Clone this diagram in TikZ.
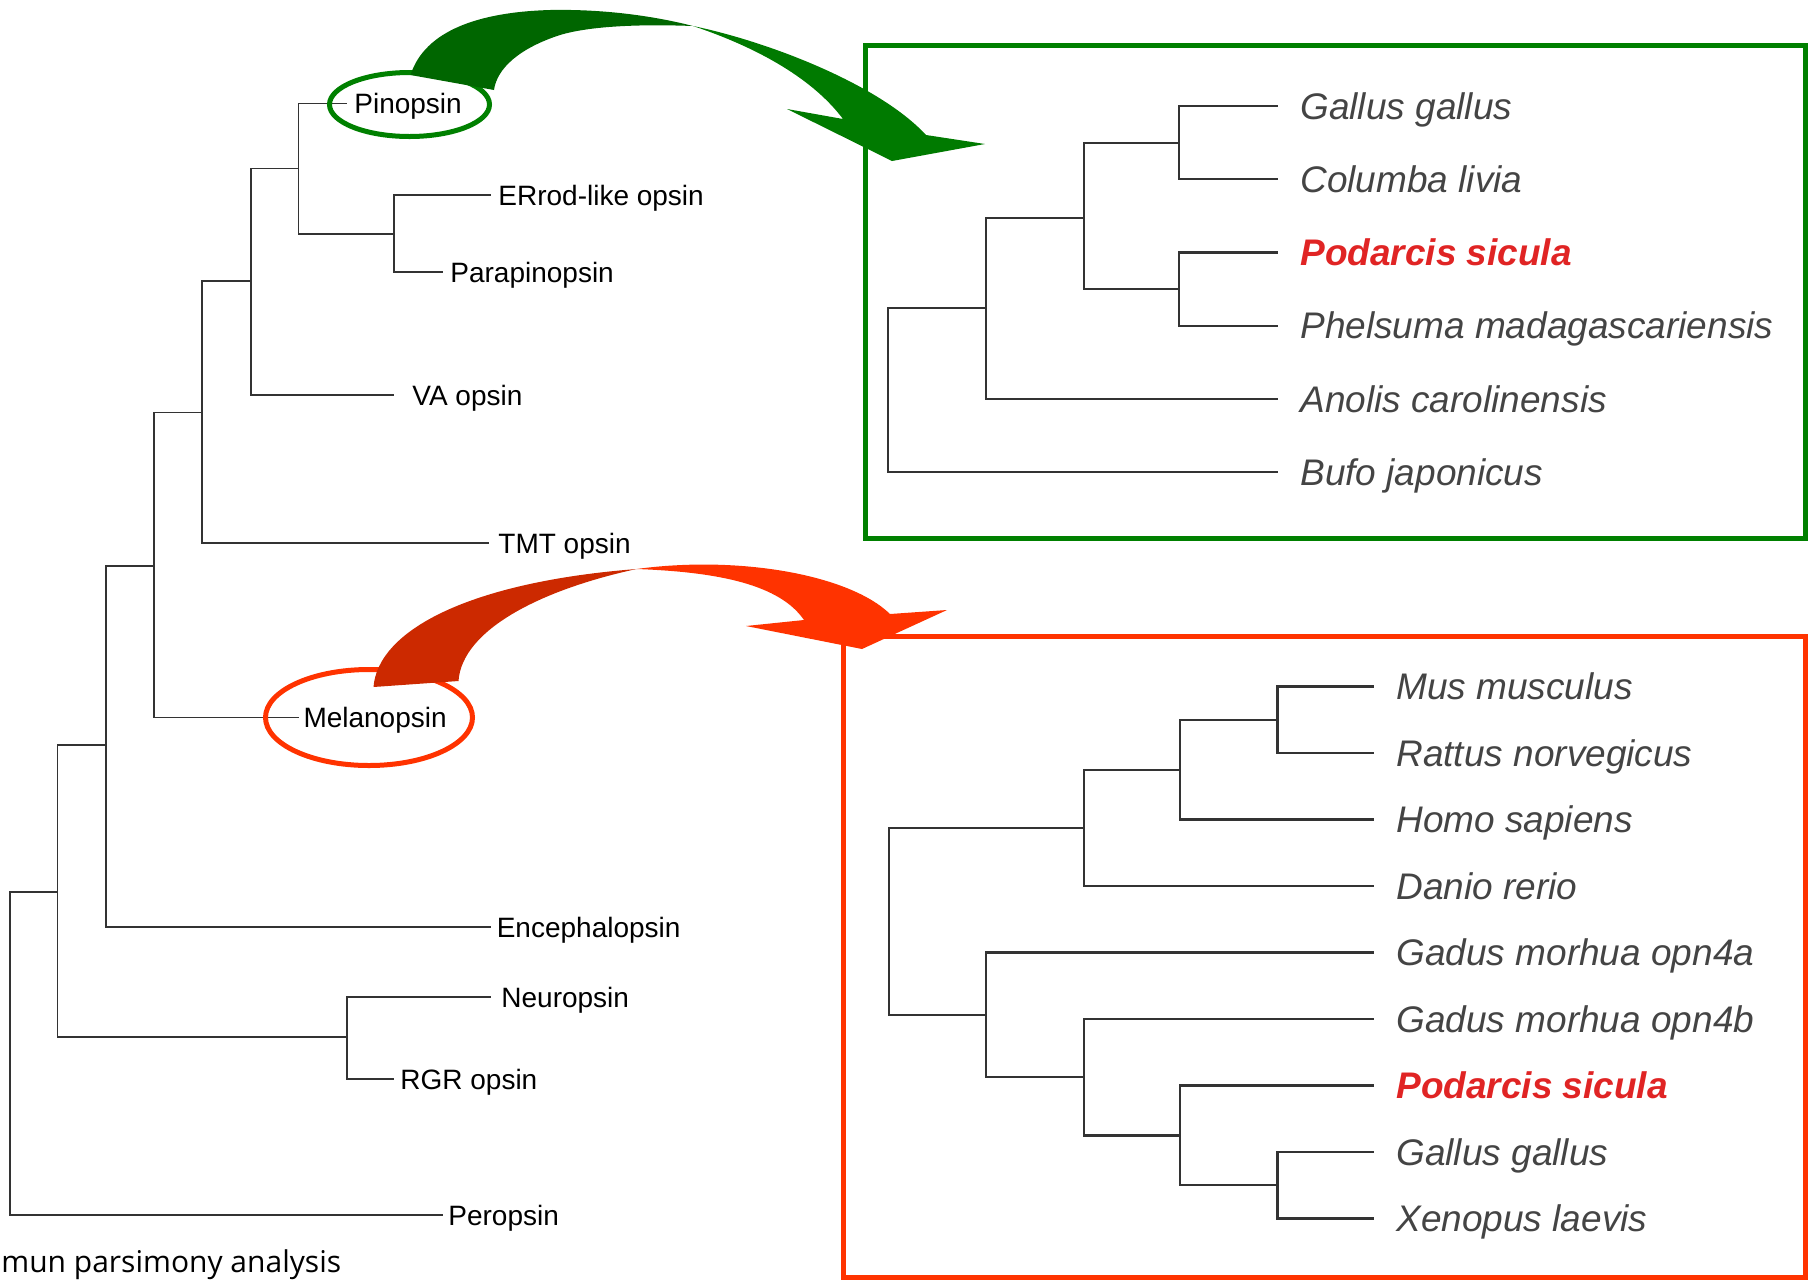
\documentclass[tikz,border=0pt]{standalone}
\usepackage{fontspec}
\setmainfont{Liberation Sans}
\newfontfamily\capfont{Open Sans}
\usetikzlibrary{shapes.geometric}
\definecolor{treegray}{HTML}{333333}
\definecolor{namegray}{HTML}{444444}
\definecolor{boxgreen}{HTML}{008000}
\definecolor{ribdarkgreen}{HTML}{006600}
\definecolor{ribgreen}{HTML}{007A00}
\definecolor{boxred}{HTML}{FF3300}
\definecolor{ribdarkred}{HTML}{CC2900}
\definecolor{podred}{HTML}{E02424}
\begin{document}
\begin{tikzpicture}[x=0.5pt,y=-0.5pt,
  ltree/.style={draw=treegray,line width=0.8pt},
  rtree/.style={draw=treegray,line width=1.1pt},
  ltxt/.style={anchor=base west,inner sep=0pt,yshift=-5pt,xshift=3.5pt,
    font=\fontsize{14pt}{16pt}\selectfont},
  rtxt/.style={anchor=base west,inner sep=0pt,yshift=-6.6pt,xshift=11pt,
    text=namegray,font=\itshape\fontsize{18.5pt}{22pt}\selectfont},
  hilite/.style={text=podred,font=\bfseries\itshape\fontsize{18.5pt}{22pt}\selectfont},
  ring/.style={ellipse,draw,line width=2.5pt,inner sep=0pt},
  frame/.style={draw,line width=2.5pt}]
\useasboundingbox (0,0) rectangle (1810,1281);
\clip (0,0) rectangle (1810,1281);

% ---------------- opsin tree (left) ----------------
% leaf ends
\coordinate (pin)  at (347,103.5);
\coordinate (err)  at (491,195);
\coordinate (para) at (443,272);
\coordinate (va)   at (394,395);
\coordinate (tmt)  at (489,543);
\coordinate (mel)  at (298.5,717.5);
\coordinate (enc)  at (491,927);
\coordinate (neu)  at (491,997);
\coordinate (rgr)  at (394,1079);
\coordinate (per)  at (443,1215);
% internal nodes
\coordinate (nEP) at (394,234);
\coordinate (nPE) at (298.5,168.5);
\coordinate (nA)  at (251,281);
\coordinate (nB)  at (202,412.5);
\coordinate (nC)  at (154,566);
\coordinate (nD)  at (106,745);
\coordinate (nNR) at (347,1037);
\coordinate (nE)  at (57.4,892);
\coordinate (nR)  at (10,1050);

\draw[ltree] (nEP) |- (err)  (nEP) |- (para)
             (nPE) |- (pin)  (nPE) |- (nEP)
             (nA)  |- (nPE)  (nA)  |- (va)
             (nB)  |- (nA)   (nB)  |- (tmt)
             (nC)  |- (nB)   (nC)  |- (mel)
             (nD)  |- (nC)   (nD)  |- (enc)
             (nNR) |- (neu)  (nNR) |- (rgr)
             (nE)  |- (nD)   (nE)  |- (nNR)
             (nR)  |- (nE)   (nR)  |- (per);

\node[ltxt] (tPin)  at (pin)  {Pinopsin};
\node[ltxt] (tErr)  at (err)  {ERrod-like opsin};
\node[ltxt] (tPara) at (para) {Parapinopsin};
\node[ltxt,xshift=5.5pt] (tVa) at (va) {VA opsin};
\node[ltxt,xshift=1pt] (tTmt) at (tmt) {TMT opsin};
\node[ltxt,xshift=-1.2pt] (tMel) at (mel) {Melanopsin};
\node[ltxt,xshift=-0.8pt] (tEnc) at (enc) {Encephalopsin};
\node[ltxt,xshift=1.5pt] (tNeu) at (neu) {Neuropsin};
\node[ltxt,xshift=-0.5pt] (tRgr) at (rgr) {RGR opsin};
\node[ltxt,xshift=-1pt] (tPer) at (per) {Peropsin};

\node[anchor=base west,inner sep=0pt,font=\capfont\fontsize{15pt}{18pt}\selectfont]
  (cap) at (1,1272) {mun parsimony analysis};

% highlight rings
\node[ring,draw=boxgreen,minimum width=80pt,minimum height=32pt] (ePin) at (409.5,104.5) {};
\node[ring,draw=boxred,minimum width=103.5pt,minimum height=48pt] (eMel) at (369,717.5) {};

% ---------------- pinopsin tree (upper right) ----------------
\draw[frame,draw=boxgreen] (865.5,45.5) rectangle (1805.5,538);
\foreach \n/\y in {gGal/106,gCol/179.2,gPod/252.4,gPhe/325.6,gAno/398.8,gBuf/472}
  \coordinate (\n) at (1278,\y);
\coordinate (g1) at (1179,142.6);
\coordinate (g2) at (1179,289);
\coordinate (g3) at (1084,217.7);
\coordinate (g4) at (986,308);
\coordinate (g5) at (888,400);
\draw[rtree] (g1) |- (gGal)  (g1) |- (gCol)
             (g2) |- (gPod)  (g2) |- (gPhe)
             (g3) |- (g1)    (g3) |- (g2)
             (g4) |- (g3)    (g4) |- (gAno)
             (g5) |- (g4)    (g5) |- (gBuf);
\node[rtxt] (tgGal) at (gGal) {Gallus gallus};
\node[rtxt] (tgCol) at (gCol) {Columba livia};
\node[rtxt,hilite] (tgPod) at (gPod) {Podarcis sicula};
\node[rtxt] (tgPhe) at (gPhe) {Phelsuma madagascariensis};
\node[rtxt] (tgAno) at (gAno) {Anolis carolinensis};
\node[rtxt] (tgBuf) at (gBuf) {Bufo japonicus};

% ---------------- melanopsin tree (lower right) ----------------
\draw[frame,draw=boxred] (843.5,636) rectangle (1805.5,1277.5);
\foreach \n/\y in {rMus/686.5,rRat/753,rHom/819.5,rDan/886,rGa/952.5,
                   rGb/1019,rPod/1085.5,rGal/1152,rXen/1218.5}
  \coordinate (\n) at (1374,\y);
\coordinate (r1) at (1277.5,719.75);
\coordinate (r2) at (1180,769.6);
\coordinate (r3) at (1084,827.8);
\coordinate (r4) at (1277.5,1185.25);
\coordinate (r5) at (1180,1135.4);
\coordinate (r6) at (1084,1077.2);
\coordinate (r7) at (986,1014.9);
\coordinate (r0) at (889,920);
\draw[rtree] (r1) |- (rMus)  (r1) |- (rRat)
             (r2) |- (r1)    (r2) |- (rHom)
             (r3) |- (r2)    (r3) |- (rDan)
             (r4) |- (rGal)  (r4) |- (rXen)
             (r5) |- (rPod)  (r5) |- (r4)
             (r6) |- (rGb)   (r6) |- (r5)
             (r7) |- (rGa)   (r7) |- (r6)
             (r0) |- (r3)    (r0) |- (r7);
\node[rtxt] (trMus) at (rMus) {Mus musculus};
\node[rtxt] (trRat) at (rRat) {Rattus norvegicus};
\node[rtxt] (trHom) at (rHom) {Homo sapiens};
\node[rtxt] (trDan) at (rDan) {Danio rerio};
\node[rtxt] (trGa)  at (rGa)  {Gadus morhua opn4a};
\node[rtxt] (trGb)  at (rGb)  {Gadus morhua opn4b};
\node[rtxt,hilite] (trPod) at (rPod) {Podarcis sicula};
\node[rtxt] (trGal) at (rGal) {Gallus gallus};
\node[rtxt] (trXen) at (rXen) {Xenopus laevis};

% ---------------- twisted ribbon arrows ----------------
% green: Pinopsin -> upper tree
\fill[ribdarkgreen] (410.5,75) .. controls (425,30) and (480,12) .. (550,10)
   .. controls (600,9) and (650,15) .. (693,26)
   .. controls (640,24) and (590,26) .. (560,35)
   .. controls (520,48) and (497,68) .. (494,90) -- cycle;
\fill[ribgreen] (693,26) .. controls (770,42) and (880,85) .. (926,135)
   -- (985,144) -- (892,161) -- (787,109) -- (843,119)
   .. controls (810,75) and (750,45) .. (693,26) -- cycle;
% red: Melanopsin -> lower tree
\fill[ribdarkred] (373.5,687) .. controls (378,630) and (470,582) .. (636.5,569)
   .. controls (540,590) and (462,630) .. (458.5,681) -- cycle;
\fill[boxred] (636.5,569) .. controls (740,555) and (850,575) .. (890,614)
   -- (947,610) -- (862,649) -- (746,626) -- (804,620)
   .. controls (780,585) and (720,572) .. (636.5,569) -- cycle;
\end{tikzpicture}
\end{document}
